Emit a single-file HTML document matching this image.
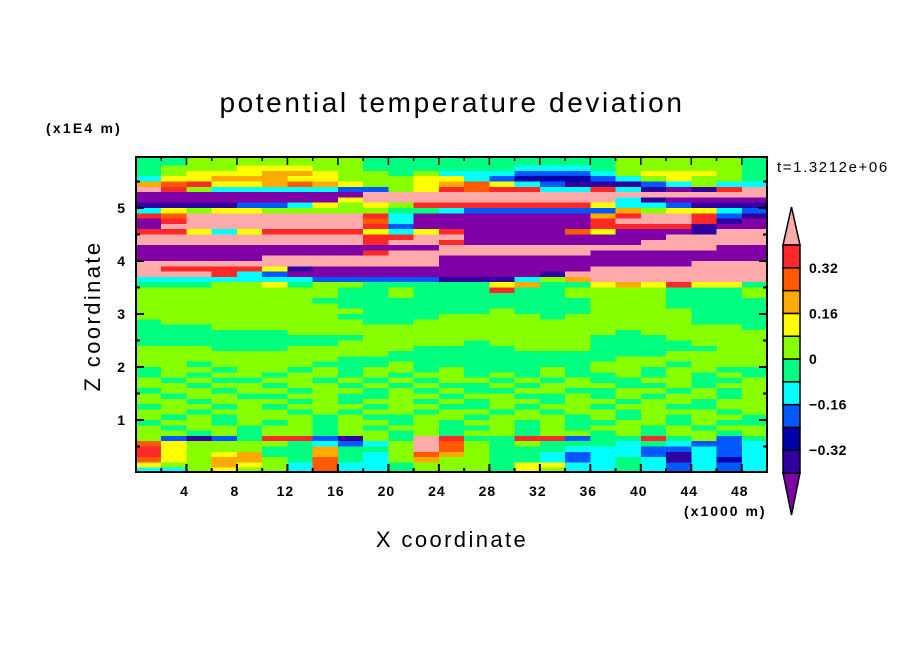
<!DOCTYPE html>
<html><head><meta charset="utf-8"><style>
html,body{margin:0;padding:0;background:#fff}
svg{display:block}
text{font-family:"Liberation Sans",sans-serif;fill:#000}
</style></head><body>
<svg id="chart" width="904" height="654" viewBox="0 0 904 654" xmlns="http://www.w3.org/2000/svg">
<defs><clipPath id="plotclip"><rect x="136" y="157" width="631" height="315"/></clipPath></defs>
<rect width="904" height="654" fill="#fff"/>
<text x="452" y="112" font-size="28" text-anchor="middle" letter-spacing="2.6">potential temperature deviation</text>
<text x="46" y="133" font-size="14" font-weight="bold" letter-spacing="2.2">(x1E4 m)</text>
<text x="777" y="172" font-size="15" letter-spacing="1.6">t=1.3212e+06</text>
<text transform="translate(100,316) rotate(-90)" font-size="22" text-anchor="middle" letter-spacing="2.4">Z coordinate</text>
<text x="452" y="547" font-size="22" text-anchor="middle" letter-spacing="2.4">X coordinate</text>
<text x="684" y="516" font-size="14" font-weight="bold" letter-spacing="2">(x1000 m)</text>
<g id="field" clip-path="url(#plotclip)"></g>
<g id="axes"></g>
<g id="cbar"></g>
</svg>
<script>
// Data arrays
const levelBounds = [-0.4,-0.32,-0.24,-0.16,-0.08,0,0.08,0.16,0.24,0.32,0.4];
const levelColors = ["#8000a8","#3000a0","#0000aa","#0058ff","#00ffff","#00ff80","#88ff00","#ffff00","#ffaa00","#ff5a00","#ff2828","#ffaaaa"];
const cbarLabels = ["0.32","0.16","0","-0.16","-0.32"];
const cbarLabelValues = [0.32,0.16,0,-0.16,-0.32];
const xTickValues = [4,8,12,16,20,24,28,32,36,40,44,48];
const zTickValues = [1,2,3,4,5];
const codeValues = {V:-0.45,N:-0.36,D:-0.28,B:-0.2,C:-0.12,G:-0.04,L:0.04,Y:0.12,A:0.2,O:0.28,R:0.36,P:0.45};
const xMax = 50, zMax = 5.96, cellKm = 2, cellZ = 0.1;
const fieldRows = [
"GGLLLLLLLGGGGGGGGGGLLLLLG",
"GGLLLLLLLGGGGGGGGGGLLLLLG",
"GLLLYYYLLGGGGGGCCCGLLLLLG",
"GLYYYAAYLLGLCCCBBBCLYYYLG",
"CYYAAAYYLLLYYCBDDDBCLYLLG",
"AORYYAOAYLLYAOYCBNNNBCLCC",
"PRLCCCCCBBLYRORRCCRCNVNRP",
"VVVVVVVVVPPPPPPPPPPPPPPPP",
"VVVVVVVVYPPPPPPPPPPCNVVVV",
"NNNNBBCYLYLRRRRRRRYCCBNNN",
"CYLYYLLLLLGGCBBBBBBALYYCB",
"ROPPPPPPPRCVVVVVVVARPPRBN",
"VRPPPPPPPOCVVVVVVVRPPPRNV",
"VPPPPPPPPRBVVVVVVVRRRRNVV",
"RRYCYRRRRYCYRVVVVOYVVVNPP",
"PPPPPPPPPRRPPVVVVVVVVPPPP",
"PPPPPPPPPRPPRVVVVVVVPPPPP",
"VVVVVVVVVVVVPPPPPPPPPPPVV",
"VVVVVVVVVRPPPPPPPPVVVVVVV",
"VVVVVPPPPPPPVVVVVVVVVVVVV",
"PPPPPPPPPPPPVVVVVVVVVVPPP",
"PRRRRYNVVVVVVVVVVVPPPPPPP",
"PPPRCBVVVVVVVVVVNPPPPPPPP",
"CCCCCCCBBBBBNNNCLAPPPPPPP",
"GGGLLYGLLGGGGGYAGGYAYRYYG",
"LLLLLLLLGGLGGGRGGLLLLGGGL",
"LLLLLLLLGGLGGGGGGLLLLGGGL",
"LLLLLLLGGGGGGGGGGGLLLGGGG",
"LLLLLLLLGGGGGGGGGGLLLGGGG",
"LLLLLLLLLGGGGGLGGGLLLLGGG",
"LLLLLLLLGGGGLLLLGLLLLLGGG",
"GLLLLLLLLGGLLLLLLLLLLLGGG",
"GGGLLLLLLLLLLLLLLLLLLLLLG",
"GGGGGGLLLLLLLLLLLLLGLLLLL",
"GGGGGGGGGLLLLLLLLLGGGLLLL",
"GGGGGGGGLLLLLGLLLLGGGGLLL",
"LLLGGGLLLLLGGGGLLLGGGGGLL",
"LLLLLLLLLLGGGGGGGGGGGLLLL",
"LLLLLLLLGGGGGGGGGGGLLLLLL",
"LLGLLLLGGGLGGGGGGGLLLGLLL",
"GLLGLLGLGLLGLGGGLGLLGLLGG",
"GLGLLGLLGLGLLGLGLGGLGLGLG",
"LGLGGLLGLGLGLLGLGLGGLLGGL",
"LLGLLGLLGLGLGGLGLLLGGLGLL",
"GLLGLLGLLGLGLGGLLGGLLGLGL",
"LGLLGGLLGGLLGLLGGLGLGLLGL",
"LLGLLLGLGLLGLGLLGLLGLLGLL",
"GLLGLGLLLGLLGGLGLLGLLGGLL",
"LLGLLLGLGLLGLLGLGLLGLLLGL",
"LGLGLLLGLGGLLGLLLGLGLGLLG",
"GLLGLGLGLLGLGLLGLGGLLGLGG",
"LGLLGLLGLGLLGGLGLGLLGLGLL",
"LLGLGLLGLLGLGLLGLLGLGLLGL",
"LBNBGRRBNLGPRGGRRBGGRGLBG",
"OYLLLLGCBCLPOLGLGGGCGCBBC",
"RYLLLGGAGGLPOLGGGCCCBBCBC",
"RYLYAGGAGCLOALGGCBCCBNCBC",
"OYLAALGOGCLALLGGCBCGCNCDC",
"YLLAYLCOCCGLLLGYYCCGCBCBC",
"CCLYLLCOCCGLLLGYLCCGCBCBC"
];
</script>
<script>
const NS = "http://www.w3.org/2000/svg";
const PX0 = 136, PX1 = 767, PY0 = 473, PYpu = 53;
function xScale(km){ return PX0 + (PX1-PX0)*km/xMax; }
function zScale(z){ return PY0 - PYpu*z; }
function colorFor(v){
  for(let i=0;i<levelBounds.length;i++){ if(v<levelBounds[i]) return levelColors[i]; }
  return levelColors[levelColors.length-1];
}
function mk(tag, attrs, parent){
  const e = document.createElementNS(NS, tag);
  for(const k in attrs) e.setAttribute(k, attrs[k]);
  parent.appendChild(e); return e;
}
const field = document.getElementById('field');
fieldRows.forEach((row, r) => {
  const zTop = 6 - r*cellZ, zBot = zTop - cellZ;
  for(let c=0;c<row.length;c++){
    const v = codeValues[row[c]];
    const x0 = xScale(c*cellKm), x1 = xScale((c+1)*cellKm);
    const y0 = zScale(zTop), y1 = zScale(zBot);
    const cell = mk('rect',{x:x0,y:y0,width:x1-x0+0.6,height:y1-y0+0.6,fill:colorFor(v),'shape-rendering':'crispEdges'},field);
    
    
  }
});
const axes = document.getElementById('axes');
const frame = mk('rect',{x:PX0,y:157,width:PX1-PX0,height:315,fill:'none',stroke:'#000','stroke-width':2},axes);


for(let k=2;k<xMax;k+=2){
  const x = xScale(k), len = (k%4===0)?8:4;
  mk('line',{x1:x,y1:472,x2:x,y2:472-len,stroke:'#000','stroke-width':2},axes);
  mk('line',{x1:x,y1:157,x2:x,y2:157+len,stroke:'#000','stroke-width':1.5},axes);
}
xTickValues.forEach(v=>{
  const t = mk('text',{x:xScale(v)-2,y:496,'font-size':14,'font-weight':'bold','text-anchor':'middle','letter-spacing':1},axes);
  t.textContent = v;
  
  
});
for(let z=0.5;z<zMax;z+=0.5){
  const y = zScale(z), len = (Math.abs(z-Math.round(z))<1e-6)?8:4;
  mk('line',{x1:PX0,y1:y,x2:PX0+len,y2:y,stroke:'#000','stroke-width':2},axes);
  mk('line',{x1:PX1,y1:y,x2:PX1-len,y2:y,stroke:'#000','stroke-width':2},axes);
}
zTickValues.forEach(v=>{
  const t = mk('text',{x:125,y:zScale(v)+5,'font-size':14,'font-weight':'bold','text-anchor':'end'},axes);
  t.textContent = v;
  
  
});
const cb = document.getElementById('cbar');
const cbX0 = 783, cbX1 = 800, cbTop = 245, boxH = 22.8, cbTipTop = 207, cbTipBot = 515;
const nBox = levelBounds.length-1;
function cbY(v){ return cbTop + (levelBounds[nBox]-v)/(levelBounds[nBox]-levelBounds[0])*(boxH*nBox); }
const topTri = mk('polygon',{points:`${cbX0},${cbTop} ${cbX1},${cbTop} ${(cbX0+cbX1)/2},${cbTipTop}`,fill:levelColors[levelColors.length-1],stroke:'#000','stroke-width':1.5},cb);


const botY = cbY(levelBounds[0]);
const botTri = mk('polygon',{points:`${cbX0},${botY} ${cbX1},${botY} ${(cbX0+cbX1)/2},${cbTipBot}`,fill:levelColors[0],stroke:'#000','stroke-width':1.5},cb);


for(let i=0;i<nBox;i++){
  const y0 = cbY(levelBounds[i+1]), y1 = cbY(levelBounds[i]);
  const b = mk('rect',{x:cbX0,y:y0,width:cbX1-cbX0,height:y1-y0,fill:levelColors[i+1],stroke:'#000','stroke-width':1.5},cb);
  
  
}
cbarLabels.forEach((lab,i)=>{
  const t = mk('text',{x:809,y:cbY(cbarLabelValues[i])+5,'font-size':14,'font-weight':'bold','letter-spacing':0.5},cb);
  t.textContent = lab.replace('-','\u2212');
  
  
});
</script>
</body></html>
